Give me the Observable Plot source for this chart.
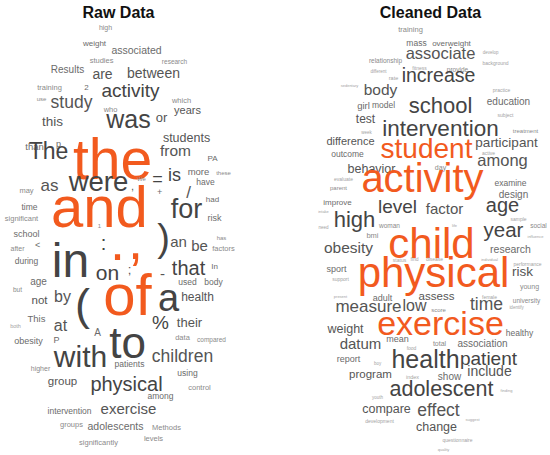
<!DOCTYPE html>
<html>
<head>
<meta charset="utf-8">
<script src="https://cdn.jsdelivr.net/npm/d3@7"></script>
<script src="https://cdn.jsdelivr.net/npm/@observablehq/plot@0.6"></script>
<style>
  html, body { margin: 0; padding: 0; background: #fff; }
  #chart { width: 550px; height: 455px; }
</style>
</head>
<body>
<div id="chart"></div>
<script>
// Panel titles
const panelTitles = ["Raw Data", "Cleaned Data"];
const titleX = [118, 430];
const titleY = [12, 12];

// ---- Raw Data word cloud (word, layout x, layout y, weight) ----
const rawWords = ["high","weight","associated","studies","research","Results","are","between","training","2",
  "activity","use","which","study","who","years","this","was","or","students",
  "than","p","the","The","from","PA","more","these","as","were",
  ",","We","=","is","have","+","/","may","had","time",
  "for","risk","significant","1",")","and","school","after","<","during",
  "in",":",".",",","on",";","-","an","be","has",
  "factors","that","In","used","body","age","but","not","by","(",
  "of","a","health","This","both","at","%","their","A","to",
  "obesity","P","data","compared","with","children","patients","higher","using","group",
  "physical","control","among","intervention","exercise","groups","adolescents","Methods","significantly","levels"];
const rawX = [105,94,136,101,174,67,102,153,49,86,
  130,41,181,71,110,187,52,128,161,186,
  34,58,112,48,175,212,198,223,49,98,
  132,141,157,174,205,159,188,26,212,29,
  186,214,21,99,163,99,26,17,37,26,
  70,103,117,135,107,129,162,178,199,221,
  223,188,214,187,213,38,17,39,62,82,
  127,168,197,36,15,60,160,189,97,127,
  28,56,182,211,80,182,129,40,187,62,
  126,199,160,69,128,71,115,166,98,153];
const rawY = [27,43,50,60,61,69,74,73,87,87,
  90,99,100,102,109,110,121,119,117,137,
  146,144,160,151,151,158,171,173,185,182,
  186,179,179,175,182,192,192,190,199,207,
  209,218,218,226,238,208,234,248,245,261,
  261,243,242,241,273,269,274,242,246,238,
  248,268,266,282,282,281,289,300,296,305,
  296,298,297,318,326,325,322,322,332,343,
  341,340,337,339,357,356,364,368,373,381,
  384,387,396,411,409,424,426,427,442,438];
const rawWeight = [7,8,10.5,7.5,6.5,10,14,14,7.5,8,
  19,6,7.5,17.5,7.5,11,13.5,25,13,12.5,
  9.5,9,57,23,15.5,8,9.5,6,17,27.5,
  11,6,18,18,8.5,9,17,7.5,8,8.5,
  27,9,7.5,6,38,58,9,7,9,8.5,
  48,20,54,54,21,13,15,15,15,6,
  7.5,20,8,8.5,8.5,10,6.5,11.5,16,45,
  58,38,12,9.5,5.5,16,19,13,10,44,
  9,9,7.5,6.5,30,17.5,8.5,7,8.5,11.5,
  20,7.5,8.5,8.5,15,7.5,10.5,7.5,7.5,7.5];

// ---- Cleaned Data word cloud ----
const cleanWords = ["training","mass","overweight","relationship","associate","develop","background","different","fitness","provide",
  "rate","sedentary","increase","body","practice","girl","model","school","education","subject",
  "test","intervention","week","treatment","difference","student","participant","outcome","active","among",
  "behavior","day","evaluate","activity","examine","parent","design","improve","level","factor",
  "age","intake","high","woman","sample","social","need","child","year","life",
  "influence","bmi","obesity","research","status","find","disease","individual","performance","sport",
  "support","physical","risk","young","present","adult","assess","female","university","identify",
  "measure","low","score","time","exercise","weight","healthy","datum","mean","food",
  "total","association","report","boy","health","patient","program","index","show","include",
  "adolescent","youth","finding","compare","effect","development","suggest","change","questionnaire","quality"];
const cleanX = [410,416,451,385,440,490,495,378,419,457,
  393,349,438,380,501,363,383,440,508,505,
  365,440,366,525,350,426,506,347,488,502,
  371,440,343,422,510,338,513,337,397,444,
  502,323,354,389,518,538,323,431,503,454,
  535,372,348,510,399,414,434,489,527,336,
  340,433,522,529,340,382,436,489,526,516,
  368,414,438,486,440,345,519,360,397,411,
  439,482,348,377,425,488,370,412,449,489,
  441,377,506,386,438,379,472,436,457,443];
const cleanY = [29,43,43,60,53,52,63,71,68,69,
  78,85,75,90,90,105,105,105,101,115,
  119,128,132,131,141,149,142,154,153,160,
  168,167,179,179,183,188,194,202,206,209,
  205,211,219,225,219,225,227,244,230,225,
  236,235,248,249,260,259,259,259,264,269,
  279,273,271,286,296,298,296,297,300,307,
  306,305,310,304,324,328,333,344,339,348,
  343,343,359,363,359,358,374,377,376,371,
  389,397,390,408,410,421,419,426,440,449];
const cleanWeight = [7.5,8.5,8,6.5,16.5,4.5,5,4.5,5,6.5,
  5.5,4,19.5,15.5,5,9.5,8.5,22,10,5,
  12,22.5,4.5,6,11,28,13.5,8.5,5,16.5,
  12.5,7,5,40,8.5,6,10,8,19,15,
  20,4,22,6.5,5,6.5,4.5,42,20.5,4,
  4,7.5,15.5,10.5,5,5,5,4,5,9,
  5,42,13.5,7,4,9,11.5,5,6.5,4.5,
  17,16,6,17.5,34,12.5,8.5,15,9,5,
  7,10,9,4.5,25,19,11.5,5.5,10,14,
  21.5,4.5,4,12.5,17.5,5,4,12.5,5,4];

// Build tables for Plot
function table(words, xs, ys, ws) {
  const rows = words.map((w, i) => ({word: w, x: xs[i], y: ys[i], weight: ws[i]}));
  const top = new Set([...rows].sort((a, b) => b.weight - a.weight).slice(0, 5));
  rows.forEach(r => r.rank = top.has(r) ? "top" : "rest");
  return rows;
}
const raw = table(rawWords, rawX, rawY, rawWeight);
const clean = table(cleanWords, cleanX, cleanY, cleanWeight);
const titles = panelTitles.map((t, i) => ({title: t, x: titleX[i], y: titleY[i]}));

const orange = "#f25a1e";
function shade(d) {
  if (d.rank === "top") return orange;
  if (d.weight >= 18) return "#444444";
  if (d.weight >= 11) return "#555555";
  if (d.weight >= 8) return "#6b6b6b";
  if (d.weight >= 6) return "#8a8a8a";
  return "#a3a3a3";
}

const font = "'Liberation Sans', Arial, Helvetica, sans-serif";
const cloudOpts = {
  x: "x", y: "y", text: "word",
  fontSize: d => d.weight,
  fill: shade,
  fontFamily: font,
  textAnchor: "middle",
  lineAnchor: "middle"
};

const chart = Plot.plot({
  width: 550,
  height: 455,
  margin: 0,
  x: {domain: [0, 550], range: [0, 550], axis: null},
  y: {domain: [0, 455], range: [0, 455], axis: null},
  style: {fontFamily: font, background: "#fff"},
  marks: [
    Plot.text(raw, cloudOpts),
    Plot.text(clean, cloudOpts),
    Plot.text(titles, {x: "x", y: "y", text: "title", fontSize: 16, fontWeight: "bold", fill: "#111", fontFamily: font, lineAnchor: "middle"})
  ]
});
document.getElementById("chart").appendChild(chart);
</script>
</body>
</html>
